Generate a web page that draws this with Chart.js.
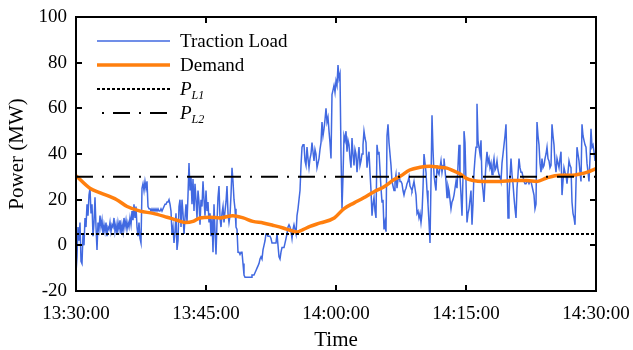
<!DOCTYPE html>
<html>
<head>
<meta charset="utf-8">
<script src="https://cdn.jsdelivr.net/npm/chart.js@4/dist/chart.umd.min.js"></script>
<style>
  html, body { margin: 0; padding: 0; background: #fff; }
  #wrap { position: relative; width: 633px; height: 350px; }
  #legend { position: absolute; left: 97px; top: 29px; font-family: 'Liberation Serif', 'Times New Roman', serif; font-size: 19px; color: #000; }
  .row { position: absolute; left: 0; height: 24px; white-space: nowrap; }
  .row svg { position: absolute; left: 0; top: 0; }
  .row .lbl { position: absolute; left: 83px; top: 0; line-height: 24px; }
  .it { font-style: italic; }
  .sub { font-size: 12px; font-style: italic; position: relative; top: 4px; }
</style>
</head>
<body>
<div id="wrap">
  <canvas id="c" width="633" height="350"></canvas>
  <div id="legend">
    <div class="row" style="top:0px"><svg width="74" height="24"><line x1="0" y1="12" x2="73" y2="12" stroke="#4169e1" stroke-width="1.5"/></svg><span class="lbl">Traction Load</span></div>
    <div class="row" style="top:24px"><svg width="74" height="24"><line x1="0" y1="12" x2="73" y2="12" stroke="#ff7f0e" stroke-width="3.5"/></svg><span class="lbl">Demand</span></div>
    <div class="row" style="top:48px"><svg width="74" height="24"><line x1="0" y1="12" x2="73" y2="12" stroke="#000" stroke-width="2" stroke-dasharray="3,2"/></svg><span class="lbl"><span class="it">P</span><span class="sub">L1</span></span></div>
    <div class="row" style="top:72px"><svg width="74" height="24"><line x1="0" y1="12" x2="73" y2="12" stroke="#000" stroke-width="2" stroke-dasharray="2,9,17,9" stroke-dashoffset="-5"/></svg><span class="lbl"><span class="it">P</span><span class="sub">L2</span></span></div>
  </div>
</div>
<script>
// ---- data ----
const tickLabels = ['13:30:00', '13:45:00', '14:00:00', '14:15:00', '14:30:00'];
const tickMinutes = [0, 15, 30, 45, 60];
const yTicks = [-20, 0, 20, 40, 60, 80, 100];

// traction load, uniformly sampled over 60 minutes (521 samples)
const loadValues = [
  -12,-5,8,2,10,-7,-8,5,0,12,
  8,18,13,22,25,14,18,4,10,21,
  8,-2,10,7,13,8,11,5,9,6,
  10,4,8,7,10,6,9,8,12,6,
  9,5,10,7,11,5,9,6,12,8,
  11,7,10,8,12,9,15,11,18,12,
  17,8,4,10,3,1,25,27,24,28,
  25,28,17,16,16,15,16,15,16,15,
  16,15,16,15,15,16,15,16,17,18,
  18,19,19,20,18,15,5,8,1,6,
  14,-2,2,17,20,8,20,14,5,12,
  18,10,22,36,24,30,18,29,15,27,
  20,12,24,19,9,20,17,28,20,13,
  24,15,19,10,14,4,12,-3,18,6,
  -4,10,21,26,12,8,14,17,10,15,
  19,26,14,10,13,22,34,28,20,16,
  8,7,-3,-3,-4,-3,-3,-8,-13,-14,
  -14,-14,-14,-14,-14,-14,-13,-13,-13,-12,
  -11,-10,-9,-8,-6,-5,-6,-2,0,2,
  5,5,4,4,4,3,1,1,1,1,
  1,5,0,-5,-6,-3,-1,-1,-1,1,
  3,5,8,9,8,6,3,7,9,7,
  5,13,16,20,24,35,43,44,44,37,
  35,43,38,34,38,40,45,41,37,42,
  40,34,36,38,42,45,54,48,51,55,
  60,54,56,50,45,38,66,68,70,67,
  72,70,79,73,75,40,16,30,48,46,
  50,41,46,44,38,34,47,40,35,42,
  40,32,38,43,35,37,40,44,50,47,
  45,34,38,41,32,24,13,18,21,15,
  12,44,40,41,33,25,19,20,7,10,
  6,48,53,45,40,35,28,26,24,28,
  31,25,29,32,28,28,27,24,22,24,
  25,27,28,30,26,25,24,26,28,25,
  22,14,15,12,14,10,14,25,40,36,
  32,24,18,10,1,28,57,42,31,27,
  24,35,32,31,34,37,32,35,38,33,
  28,21,26,24,20,16,19,20,22,25,
  28,25,35,44,30,22,13,30,50,45,
  28,10,14,16,20,24,9,18,32,38,
  43,62,46,43,40,46,28,24,19,28,
  36,41,36,38,34,36,31,35,38,33,
  34,37,33,31,30,28,36,40,44,48,
  53,34,12,21,30,38,31,27,21,16,
  12,25,31,38,34,32,32,30,28,27,
  27,28,28,27,28,28,26,24,22,16,
  18,54,48,44,36,32,38,34,35,38,
  40,43,38,37,34,35,53,48,44,36,
  32,38,36,34,38,41,22,28,34,32,
  31,27,32,37,35,34,19,14,12,9,
  27,43,40,37,32,28,53,48,46,44,
  43,36,32,28,38,51,43,44,41,37,
  42
];
const loadSpanMinutes = 60;

// demand (minutes after 13:30, MW)
const demandMinutes = [0,1.6,2.8,4.7,5.9,7.4,8.9,10.5,11.65,12.6,13.5,14.3,15.5,16.6,18.1,19.3,20.4,21.6,22.7,23.9,24.7,25.5,26.2,27,28.2,29.8,30.9,32.1,33.2,34.4,35.5,36.7,37.5,38.5,39.7,40.8,42,42.8,43.5,44.3,45.1,45.8,47,48.9,50.4,52,53.2,54.3,55.8,57.3,58.2,59,60];
const demandValues  = [30.5,25,23,20,17,15,14,12.3,11,10,10.5,12,12.3,12,13,12,10.5,9.8,8.8,7.6,6.6,5.8,6.9,8.3,9.8,12,16,18.6,20.8,23.5,25.5,28.8,30.5,33,34.2,34.6,34.2,33.8,32.7,31.3,29.2,28.4,28,28,28.4,28.4,28,29.5,30.7,30.7,31.3,32.1,33.6];

const PL1 = 5;
const PL2 = 30;

// ---- build ----
const loadData = loadValues.map((v, i) => ({ x: i * loadSpanMinutes / (loadValues.length - 1), y: v }));
const demandData = demandMinutes.map((m, i) => ({ x: m, y: demandValues[i] }));
const FONT = "'Liberation Serif', 'Times New Roman', serif";

const framePlugin = {
  id: 'frame',
  afterDatasetsDraw(chart) {
    const { ctx, chartArea: a, scales } = chart;
    ctx.save();
    ctx.strokeStyle = '#000';
    ctx.lineWidth = 2;
    ctx.strokeRect(a.left, a.top, a.right - a.left, a.bottom - a.top);
    const L = 6;
    tickMinutes.forEach(m => {
      const px = Math.round(scales.x.getPixelForValue(m));
      ctx.beginPath();
      ctx.moveTo(px, a.bottom); ctx.lineTo(px, a.bottom - L);
      ctx.moveTo(px, a.top); ctx.lineTo(px, a.top + L);
      ctx.stroke();
    });
    yTicks.forEach(v => {
      const py = Math.round(scales.y.getPixelForValue(v));
      ctx.beginPath();
      ctx.moveTo(a.left, py); ctx.lineTo(a.left + L, py);
      ctx.moveTo(a.right, py); ctx.lineTo(a.right - L, py);
      ctx.stroke();
    });
    ctx.restore();
  }
};

new Chart(document.getElementById('c'), {
  type: 'line',
  data: {
    datasets: [
      { label: 'P_L2', data: [{x:0,y:PL2},{x:60,y:PL2}], borderColor: '#000', borderWidth: 2, borderDash: [17, 9, 2, 9], pointRadius: 0, order: 0 },
      { label: 'P_L1', data: [{x:0,y:PL1},{x:60,y:PL1}], borderColor: '#000', borderWidth: 2, borderDash: [3, 2], pointRadius: 0, order: 1 },
      { label: 'Demand', data: demandData, borderColor: '#ff7f0e', borderWidth: 3.5, pointRadius: 0, cubicInterpolationMode: 'monotone', order: 2 },
      { label: 'Traction Load', data: loadData, borderColor: '#4169e1', borderWidth: 1.5, pointRadius: 0, tension: 0, order: 3 }
    ]
  },
  options: {
    responsive: false,
    animation: false,
    events: [],
    layout: { padding: { top: 17, right: 37, left: 0, bottom: 0 } },
    plugins: { legend: { display: false }, tooltip: { enabled: false } },
    scales: {
      x: {
        type: 'linear', min: 0, max: 60,
        afterFit(s) { s.height = 59; s.paddingLeft = 0; s.paddingRight = 0; },
        afterBuildTicks(s) { s.ticks = tickMinutes.map(v => ({ value: v })); },
        grid: { display: false, drawTicks: false },
        border: { display: false },
        ticks: { autoSkip: false, maxRotation: 0, padding: 12, color: '#000', font: { family: FONT, size: 19 },
          callback: (v) => tickLabels[tickMinutes.indexOf(v)] },
        title: { display: true, text: 'Time', color: '#000', font: { family: FONT, size: 21 }, padding: { top: 0, bottom: -3 } }
      },
      y: {
        min: -20, max: 100,
        afterFit(s) { s.width = 76; s.paddingTop = 0; s.paddingBottom = 0; },
        afterBuildTicks(s) { s.ticks = yTicks.map(v => ({ value: v })); },
        grid: { display: false, drawTicks: false },
        border: { display: false },
        ticks: { padding: 9, color: '#000', font: { family: FONT, size: 19 } },
        title: { display: true, text: 'Power (MW)', color: '#000', font: { family: FONT, size: 21 }, padding: { top: 5, bottom: 0 } }
      }
    }
  },
  plugins: [framePlugin]
});
</script>
</body>
</html>
